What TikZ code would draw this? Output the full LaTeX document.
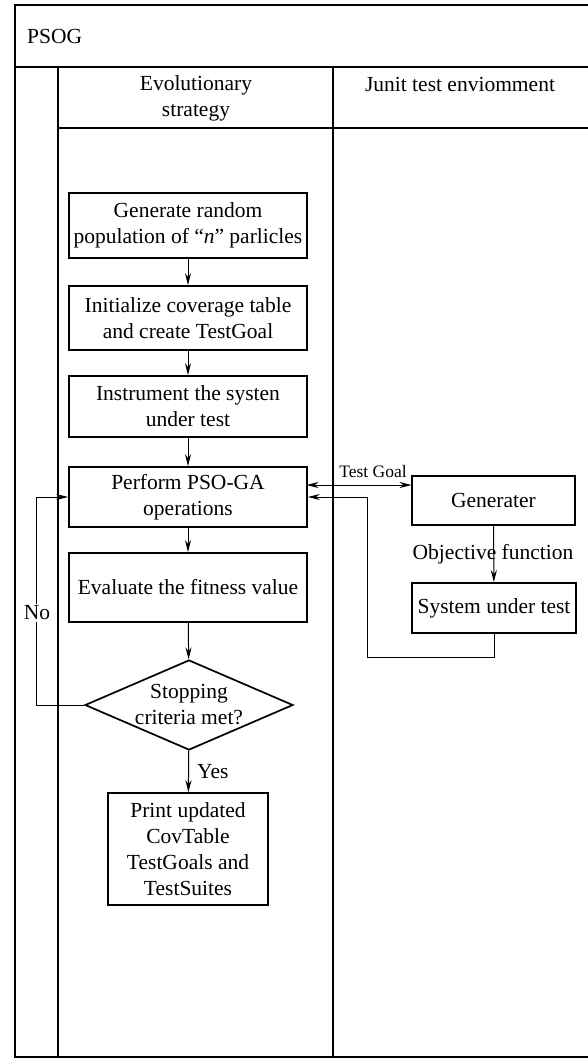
\documentclass[tikz,border=0pt]{standalone}
\usepackage{fontspec}
\setmainfont{Liberation Serif}
\usetikzlibrary{arrows.meta,shapes.geometric}
\tikzset{
  frame/.style={line width=1.9pt},
  procbox/.style={draw, line width=1.7pt, minimum width=238pt, align=center, inner sep=2pt,
    font=\fontsize{21.5}{26}\selectfont},
  sidebox/.style={draw, line width=1.7pt, minimum width=163pt, minimum height=49pt, align=center,
    inner sep=2pt, font=\fontsize{21.5}{26}\selectfont},
  decision/.style={draw, diamond, aspect=2.3, line width=1.7pt, minimum width=208pt, minimum height=90pt,
    inner sep=0pt, align=center, font=\fontsize{21.5}{26}\selectfont},
  label/.style={font=\fontsize{21.5}{26}\selectfont, align=center, inner sep=1pt},
  flow/.style={line width=1pt, -{Stealth[length=12pt,width=6pt]}},
  both/.style={line width=1pt, {Stealth[length=12pt,width=6pt]}-{Stealth[length=12pt,width=6pt]}},
  plain/.style={line width=1pt}
}
\begin{document}
\begin{tikzpicture}[x=1pt,y=-1pt]
\useasboundingbox (0,0) rectangle (588,1058);

% swimlane frame
\draw[frame] (588,5) -- (15,5) -- (15,1057) -- (588,1057);
\draw[frame] (15,67) -- (588,67);
\draw[frame] (58,67) -- (58,1057);
\draw[frame] (58,128) -- (588,128);
\draw[frame] (333,67) -- (333,1057);

% lane titles
\node[label, anchor=west] (pool) at (26,36) {PSOG};
\node[label] (laneA) at (196,98) {Evolutionary\\strategy};
\node[label] (laneB) at (460,84) {Junit test enviomment};

% evolutionary strategy steps
\node[procbox, minimum height=65pt] (gen) at (188,225.5) {Generate random\\population of “\textit{n}” parlicles};
\node[procbox, minimum height=64pt] (init) at (188,318) {Initialize coverage table\\and create TestGoal};
\node[procbox, minimum height=61pt] (instr) at (188,406.5) {Instrument the systen\\under test};
\node[procbox, minimum height=60pt] (pso) at (188,497) {Perform PSO-GA\\operations};
\node[procbox, minimum height=69pt] (eval) at (188,587.5) {Evaluate the fitness value};
\node[decision] (stop) at (189,705) {Stopping\\criteria met?};
\node[procbox, minimum width=160pt, minimum height=112pt] (print) at (188,849)
  {Print updated\\CovTable\\TestGoals and\\TestSuites};

% test environment
\node[sidebox] (genr) at (493.5,500.5) {Generater};
\node[sidebox, minimum width=164pt, minimum height=50pt] (sut) at (494,608) {System under test};

% main flow
\draw[flow] (gen) -- (init);
\draw[flow] (init) -- (instr);
\draw[flow] (instr) -- (pso);
\draw[flow] (pso) -- (eval);
\draw[flow] (eval) -- (stop);
\draw[flow] (stop) -- (print);
\node[label, anchor=west] (yes) at (196,772) {Yes};

% loop back when criteria not met
\coordinate (noB) at (36,705);
\coordinate (noT) at (36,497);
\draw[flow] (stop.west) -- (noB) -- (noT) -- (pso.west);
\node[label, fill=white, inner sep=2pt] (no) at (37,613) {No};

% exchange with the test environment
\coordinate (tgL) at (306.5,485);
\coordinate (tgR) at (411.5,485);
\draw[both] (tgL) -- (tgR);
\node[font=\fontsize{17.5}{20}\selectfont, inner sep=0pt] (tglab) at (373,472) {Test Goal};

\draw[flow] (genr) -- (sut);
\node[label] (obj) at (493,554) {Objective function};

\coordinate (r1) at (494,657);
\coordinate (r2) at (367,657);
\coordinate (r3) at (367,497);
\draw[flow] (sut.south) -- (r1) -- (r2) -- (r3) -- (pso.east);
\end{tikzpicture}
\end{document}
